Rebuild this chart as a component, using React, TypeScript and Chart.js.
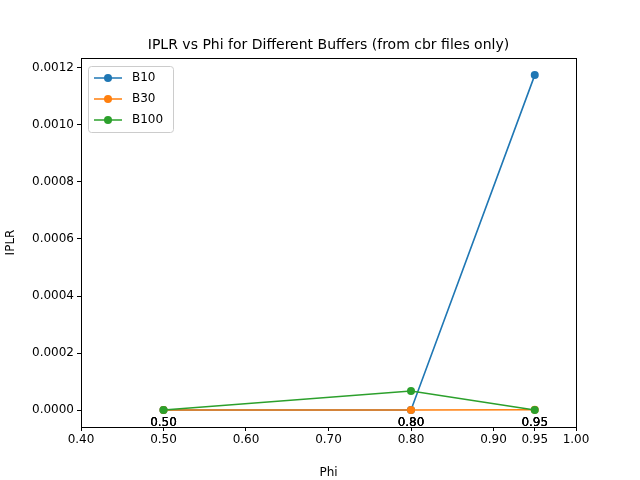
import React, { useEffect, useRef } from 'react';
import { Chart, registerables } from 'chart.js';

Chart.register(...registerables);

const phi = [0.5, 0.8, 0.95];
const b10 = [0, 0, 0.001175];
const b30 = [0, 0, 0.000001];
const b100 = [0, 0.0000667, 0];
const xTicks = [0.4, 0.5, 0.6, 0.7, 0.8, 0.9, 0.95, 1.0];
const yTicks = [0, 0.0002, 0.0004, 0.0006, 0.0008, 0.001, 0.0012];
const seriesNames = ['B10', 'B30', 'B100'];
const colors = ['#1f77b4', '#ff7f0e', '#2ca02c'];

const FONT = 'DejaVu Sans';

const extras = {
  id: 'extras',
  afterDraw(chart: any) {
    const { ctx, chartArea: a, scales } = chart;
    ctx.save();
    ctx.strokeStyle = '#000';
    ctx.lineWidth = 1;
    ctx.strokeRect(a.left + 0.5, a.top + 0.5, a.right - a.left, a.bottom - a.top);
    ctx.fillStyle = '#000';
    ctx.font = `14px ${FONT}`;
    ctx.textAlign = 'center';
    ctx.textBaseline = 'alphabetic';
    ctx.fillText('IPLR vs Phi for Different Buffers (from cbr files only)', (a.left + a.right) / 2, 49);
    // point labels (drawn several times, like the overlapping originals)
    ctx.font = `12px ${FONT}`;
    ctx.textBaseline = 'middle';
    phi.forEach((p) => {
      for (let k = 0; k < 3; k++) {
        ctx.fillText(p.toFixed(2), scales.x.getPixelForValue(p), scales.y.getPixelForValue(0) + 13);
      }
    });
    // legend
    const lx = 88, ly = 66, lw = 85, lh = 66;
    ctx.fillStyle = 'rgba(255,255,255,0.8)';
    ctx.strokeStyle = '#ccc';
    ctx.beginPath();
    ctx.roundRect(lx + 0.5, ly + 0.5, lw, lh, 3);
    ctx.fill();
    ctx.stroke();
    ctx.font = `12px ${FONT}`;
    ctx.textAlign = 'left';
    seriesNames.forEach((n, i) => {
      const y = ly + 12 + i * 21;
      ctx.strokeStyle = colors[i];
      ctx.lineWidth = 1.5;
      ctx.beginPath();
      ctx.moveTo(lx + 6, y);
      ctx.lineTo(lx + 34, y);
      ctx.stroke();
      ctx.fillStyle = colors[i];
      ctx.beginPath();
      ctx.arc(lx + 20, y, 4, 0, Math.PI * 2);
      ctx.fill();
      ctx.fillStyle = '#000';
      ctx.fillText(n, lx + 44, y);
    });
    ctx.restore();
  },
};

export default function App() {
  const ref = useRef<HTMLCanvasElement | null>(null);

  useEffect(() => {
    const ctx = ref.current?.getContext('2d');
    if (!ctx) return;
    const all = [b10, b30, b100];
    const chart = new Chart(ctx, {
      type: 'line',
      data: {
        datasets: all.map((d, i) => ({
          label: seriesNames[i],
          data: d.map((v, j) => ({ x: phi[j], y: v })),
          borderColor: colors[i],
          backgroundColor: colors[i],
          borderWidth: 1.6,
          pointRadius: 4,
          pointHoverRadius: 4,
          pointBorderWidth: 0,
          tension: 0,
          order: 2 - i,
        })),
      },
      options: {
        responsive: false,
        animation: false,
        layout: { padding: { top: 58, right: 64, left: 0, bottom: 0 } },
        plugins: { legend: { display: false }, tooltip: { enabled: false }, title: { display: false } },
        scales: {
          x: {
            type: 'linear',
            min: 0.4,
            max: 1.0,
            afterBuildTicks: (s: any) => { s.ticks = xTicks.map((v) => ({ value: v })); },
            afterFit: (s: any) => { s.height = 53; },
            ticks: {
              color: '#000',
              font: { family: FONT, size: 12 },
              maxRotation: 0,
              autoSkip: false,
              padding: 2,
              callback: (v: any) => Number(v).toFixed(2),
            },
            grid: { drawOnChartArea: false, tickLength: 4, color: '#000' },
            border: { display: false },
            title: { display: true, text: 'Phi', color: '#000', font: { family: FONT, size: 12 }, padding: { top: 0, bottom: 0 } },
          },
          y: {
            type: 'linear',
            min: -0.0000596,
            max: 0.001235,
            afterBuildTicks: (s: any) => { s.ticks = yTicks.map((v) => ({ value: v })); },
            afterFit: (s: any) => { s.width = 81; },
            ticks: {
              color: '#000',
              font: { family: FONT, size: 12 },
              padding: 3,
              callback: (v: any) => Number(v).toFixed(4),
            },
            grid: { drawOnChartArea: false, tickLength: 4, color: '#000' },
            border: { display: false },
            title: { display: true, text: 'IPLR', color: '#000', font: { family: FONT, size: 12 }, padding: { bottom: 0 } },
          },
        },
      },
      plugins: [extras],
    });
    return () => chart.destroy();
  }, []);

  return (
    <div style={{ position: 'absolute', left: 0, top: 0, width: 640, height: 480, background: '#fff' }}>
      <canvas ref={ref} width={640} height={480} />
    </div>
  );
}
